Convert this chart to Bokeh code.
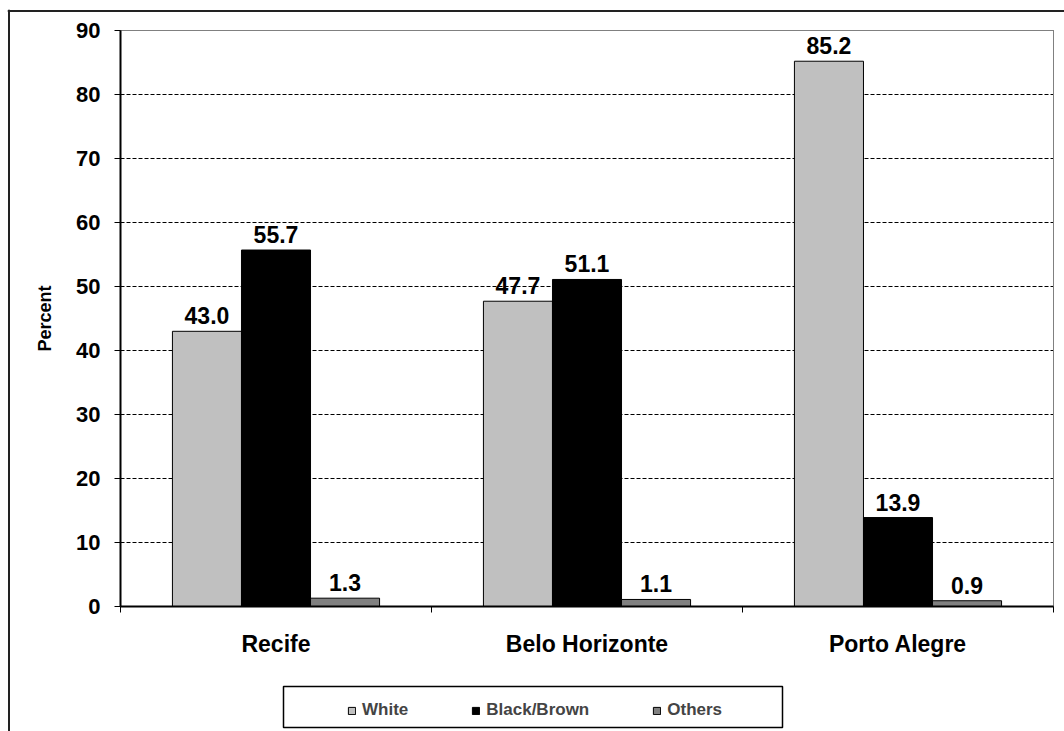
from bokeh.plotting import figure
from bokeh.models import (FixedTicker, Legend, LegendItem, BoxAnnotation, Span,
                          ColumnDataSource, Range1d)
from bokeh.transform import dodge
from bokeh.embed import file_html
from bokeh.resources import INLINE
from bokeh.core.properties import value

cities = ["Recife", "Belo Horizonte", "Porto Alegre"]
groups = ["White", "Black/Brown", "Others"]
white = [43.0, 47.7, 85.2]
black_brown = [55.7, 51.1, 13.9]
others = [1.3, 1.1, 0.9]
y_ticks = [0, 10, 20, 30, 40, 50, 60, 70, 80, 90]

FONT = "Liberation Sans"
colors = ["#C0C0C0", "#000000", "#808080"]

# ---- pixel geometry (canvas px) used to set up ranges so that the whole chart
# (including its outer frame and legend box) lies inside the plot frame ----
W, H = 1064, 731
FL, FT = 7, 9                 # frame left / top in canvas px
AX_L, AX_R = 120, 1053        # plot-area left / right in canvas px
AX_T, AX_B = 30, 606          # plot-area top (90) / bottom (0) in canvas px
ymax = y_ticks[-1]
ncat = len(cities)
ppx = (AX_R - AX_L) / ncat    # px per x unit
ppy = (AX_B - AX_T) / ymax    # px per y unit


def dx(px):
    return (px - AX_L) / ppx


def dy(py):
    return (AX_B - py) / ppy


xc = [i + 0.5 for i in range(ncat)]
src = ColumnDataSource(dict(
    x=xc, white=white, black=black_brown, others=others,
    wl=[f"{v:.1f}" for v in white],
    bl=[f"{v:.1f}" for v in black_brown],
    ol=[f"{v:.1f}" for v in others],
))

p = figure(width=W, height=H,
           x_range=Range1d(dx(FL), dx(W)), y_range=Range1d(dy(H), dy(FT)),
           output_backend="svg", toolbar_location=None,
           min_border_left=FL, min_border_right=0, min_border_top=FT, min_border_bottom=0)
p.background_fill_color = "white"
p.border_fill_color = "white"
p.outline_line_color = None

# grid (limited to the plot area)
p.xgrid.visible = False
grid = p.ygrid[0]
if "cross_bounds" in grid.properties():
    grid.ticker = FixedTicker(ticks=y_ticks)
    grid.cross_bounds = (0, ncat)
    grid.grid_line_color = "#000000"
    grid.grid_line_width = 1
    grid.grid_line_dash = "4 2"
else:
    grid.visible = False
    p.segment(x0=[0] * len(y_ticks), x1=[ncat] * len(y_ticks), y0=y_ticks, y1=y_ticks,
              line_color="#000000", line_width=1, line_dash="4 2", level="underlay")

# plot-area border (gray)
p.add_layout(BoxAnnotation(left=0, right=ncat, bottom=0, top=ymax, level="underlay",
                           fill_alpha=0, line_color="#808080", line_alpha=1, line_width=1))

bw = 0.222
renderers = []
for off, col, lab, c in [(-bw, "white", "wl", colors[0]), (0.0, "black", "bl", colors[1]), (bw, "others", "ol", colors[2])]:
    r = p.vbar(x=dodge("x", off), top=col, width=bw, source=src,
               fill_color=c, line_color="#000000", line_width=1)
    renderers.append(r)
    p.text(x=dodge("x", off), y=col, text=lab, source=src, text_align="center",
           text_baseline="bottom", y_offset=-7, text_font=value(FONT),
           text_font_style="bold", text_font_size="23px", text_color="#000000")

# y axis
p.yaxis.fixed_location = 0
p.yaxis.bounds = (0, ymax)
p.yaxis.ticker = FixedTicker(ticks=y_ticks)
p.yaxis.axis_line_color = "#000000"
p.yaxis.axis_line_width = 2
p.yaxis.major_tick_out = 6
p.yaxis.major_tick_in = 0
p.yaxis.major_tick_line_color = "#000000"
p.yaxis.major_tick_line_width = 1
p.yaxis.minor_tick_line_color = None
p.yaxis.major_label_standoff = 14
p.yaxis.major_label_text_font = FONT
p.yaxis.major_label_text_font_style = "bold"
p.yaxis.major_label_text_font_size = "22px"
p.yaxis.major_label_text_color = "#000000"
p.yaxis.axis_label = "Percent"
p.yaxis.axis_label_text_font = FONT
p.yaxis.axis_label_text_font_style = "bold"
p.yaxis.axis_label_text_font_size = "18px"
p.yaxis.axis_label_text_color = "#000000"
p.yaxis.axis_label_standoff = 18

# x axis
p.xaxis.fixed_location = 0
p.xaxis.bounds = (0, ncat)
p.xaxis.ticker = FixedTicker(ticks=xc, minor_ticks=list(range(ncat + 1)))
p.xaxis.major_label_overrides = {x: c for x, c in zip(xc, cities)}
p.xaxis.axis_line_color = "#000000"
p.xaxis.axis_line_width = 2
p.xaxis.major_tick_out = 0
p.xaxis.major_tick_in = 0
p.xaxis.major_tick_line_color = None
p.xaxis.minor_tick_out = 6
p.xaxis.minor_tick_in = 0
p.xaxis.minor_tick_line_color = "#000000"
p.xaxis.minor_tick_line_width = 1
p.xaxis.major_label_standoff = 18
p.xaxis.major_label_text_font = FONT
p.xaxis.major_label_text_font_style = "bold"
p.xaxis.major_label_text_font_size = "23px"
p.xaxis.major_label_text_color = "#000000"

# legend (inside the frame, below the plot area)
legend = Legend(items=[LegendItem(label=g, renderers=[r]) for g, r in zip(groups, renderers)],
                orientation="horizontal", location=(347 - FL, H - 720),
                border_line_alpha=0, background_fill_alpha=0, padding=0, margin=0,
                spacing=63, glyph_width=9, glyph_height=9, label_standoff=6,
                label_text_font=FONT, label_text_font_style="bold",
                label_text_font_size="17px", label_height=20)
p.add_layout(legend, "center")

# legend box
p.add_layout(BoxAnnotation(left=dx(283), right=dx(782), top=dy(686), bottom=dy(727),
                           fill_alpha=0, line_color="#000000", line_alpha=1, line_width=1.5))

# outer chart frame (only its top and left edges are inside the picture)
p.add_layout(Span(location=dx(8.5), dimension="height", line_color="#222222", line_width=2))
p.add_layout(Span(location=dy(10.5), dimension="width", line_color="#222222", line_width=2))

open("out.html", "w").write(file_html(p, INLINE))
